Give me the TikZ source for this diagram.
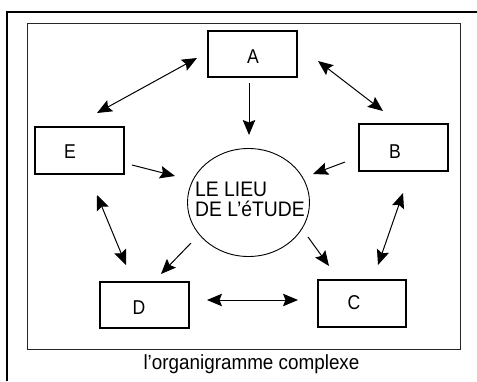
\documentclass[tikz,border=0pt]{standalone}
\usepackage{fontspec}
\usepackage{graphicx}
\setmainfont{Liberation Sans}
\usetikzlibrary{arrows.meta,shapes.geometric}
\newcommand{\narrowtext}[2]{\scalebox{#1}[1]{#2}}
\begin{document}
\begin{tikzpicture}[x=1pt,y=-1pt,
  box/.style={draw=black,line width=1.2pt,minimum width=89pt,minimum height=46pt,inner sep=0pt},
  boxtext/.style={font=\fontsize{20}{20}\selectfont,inner sep=0pt},
  tip/.tip={Stealth[length=15pt,width=12.5pt,inset=2.5pt]},
  conn/.style={line width=1pt,-tip},
  dconn/.style={line width=1pt,tip-tip}]
\useasboundingbox (0,0) rectangle (477,381);
\fill[white] (0,0) rectangle (477,381);
% outer frame
\draw[line width=2.2pt] (7,381) -- (7,12) -- (478,12);
% inner frame
\draw[line width=0.9pt,black!85] (27,23) rectangle (460,349);
% boxes
\node[box] (A) at (252.5,54) {};
\node[box,minimum height=47pt] (E) at (79.5,150.5) {};
\node[box,minimum height=47pt] (B) at (403.5,147.5) {};
\node[box] (D) at (144.5,305) {};
\node[box,minimum width=88pt,minimum height=47pt] (C) at (362,303.5) {};
\node[boxtext] (tA) at (253,57) {\narrowtext{0.88}{A}};
\node[boxtext] (tE) at (70,152) {\narrowtext{0.88}{E}};
\node[boxtext] (tB) at (395,152) {\narrowtext{0.88}{B}};
\node[boxtext] (tD) at (139,308) {\narrowtext{0.88}{D}};
\node[boxtext] (tC) at (354,303) {\narrowtext{0.88}{C}};
% circle
\node[draw,ellipse,line width=0.9pt,minimum width=122pt,minimum height=108pt,inner sep=0pt] (L) at (248.5,202.5) {};
\node[boxtext,align=left,font=\fontsize{21}{20}\selectfont,anchor=north west] (tL) at (195,181.5) {\narrowtext{0.92}{LE LIEU}\\\narrowtext{0.92}{DE L'éTUDE}};
% connector end points
\coordinate (a1) at (97,113);  \coordinate (a2) at (197,58);
\coordinate (b1) at (318,61);  \coordinate (b2) at (383,111);
\coordinate (c1) at (249,83);  \coordinate (c2) at (249,135);
\coordinate (d1) at (132,165); \coordinate (d2) at (175,176);
\coordinate (e1) at (345,162); \coordinate (e2) at (313,174);
\coordinate (f1) at (97,195);  \coordinate (f2) at (126,265);
\coordinate (g1) at (403,193); \coordinate (g2) at (378,265);
\coordinate (h1) at (191,243); \coordinate (h2) at (161,274);
\coordinate (i1) at (308,237); \coordinate (i2) at (329,266);
\coordinate (j1) at (207,300); \coordinate (j2) at (298,300);
\draw[dconn] (a1) -- (a2);
\draw[dconn] (b1) -- (b2);
\draw[conn] (c1) -- (c2);
\draw[conn] (d1) -- (d2);
\draw[conn] (e1) -- (e2);
\draw[dconn] (f1) -- (f2);
\draw[dconn] (g1) -- (g2);
\draw[conn] (h1) -- (h2);
\draw[conn] (i1) -- (i2);
\draw[dconn] (j1) -- (j2);
% caption
\node[font=\fontsize{20.5}{20}\selectfont,inner sep=0pt,anchor=base] (cap) at (251.5,369) {\narrowtext{0.92}{l'organigramme complexe}};
\end{tikzpicture}
\end{document}
